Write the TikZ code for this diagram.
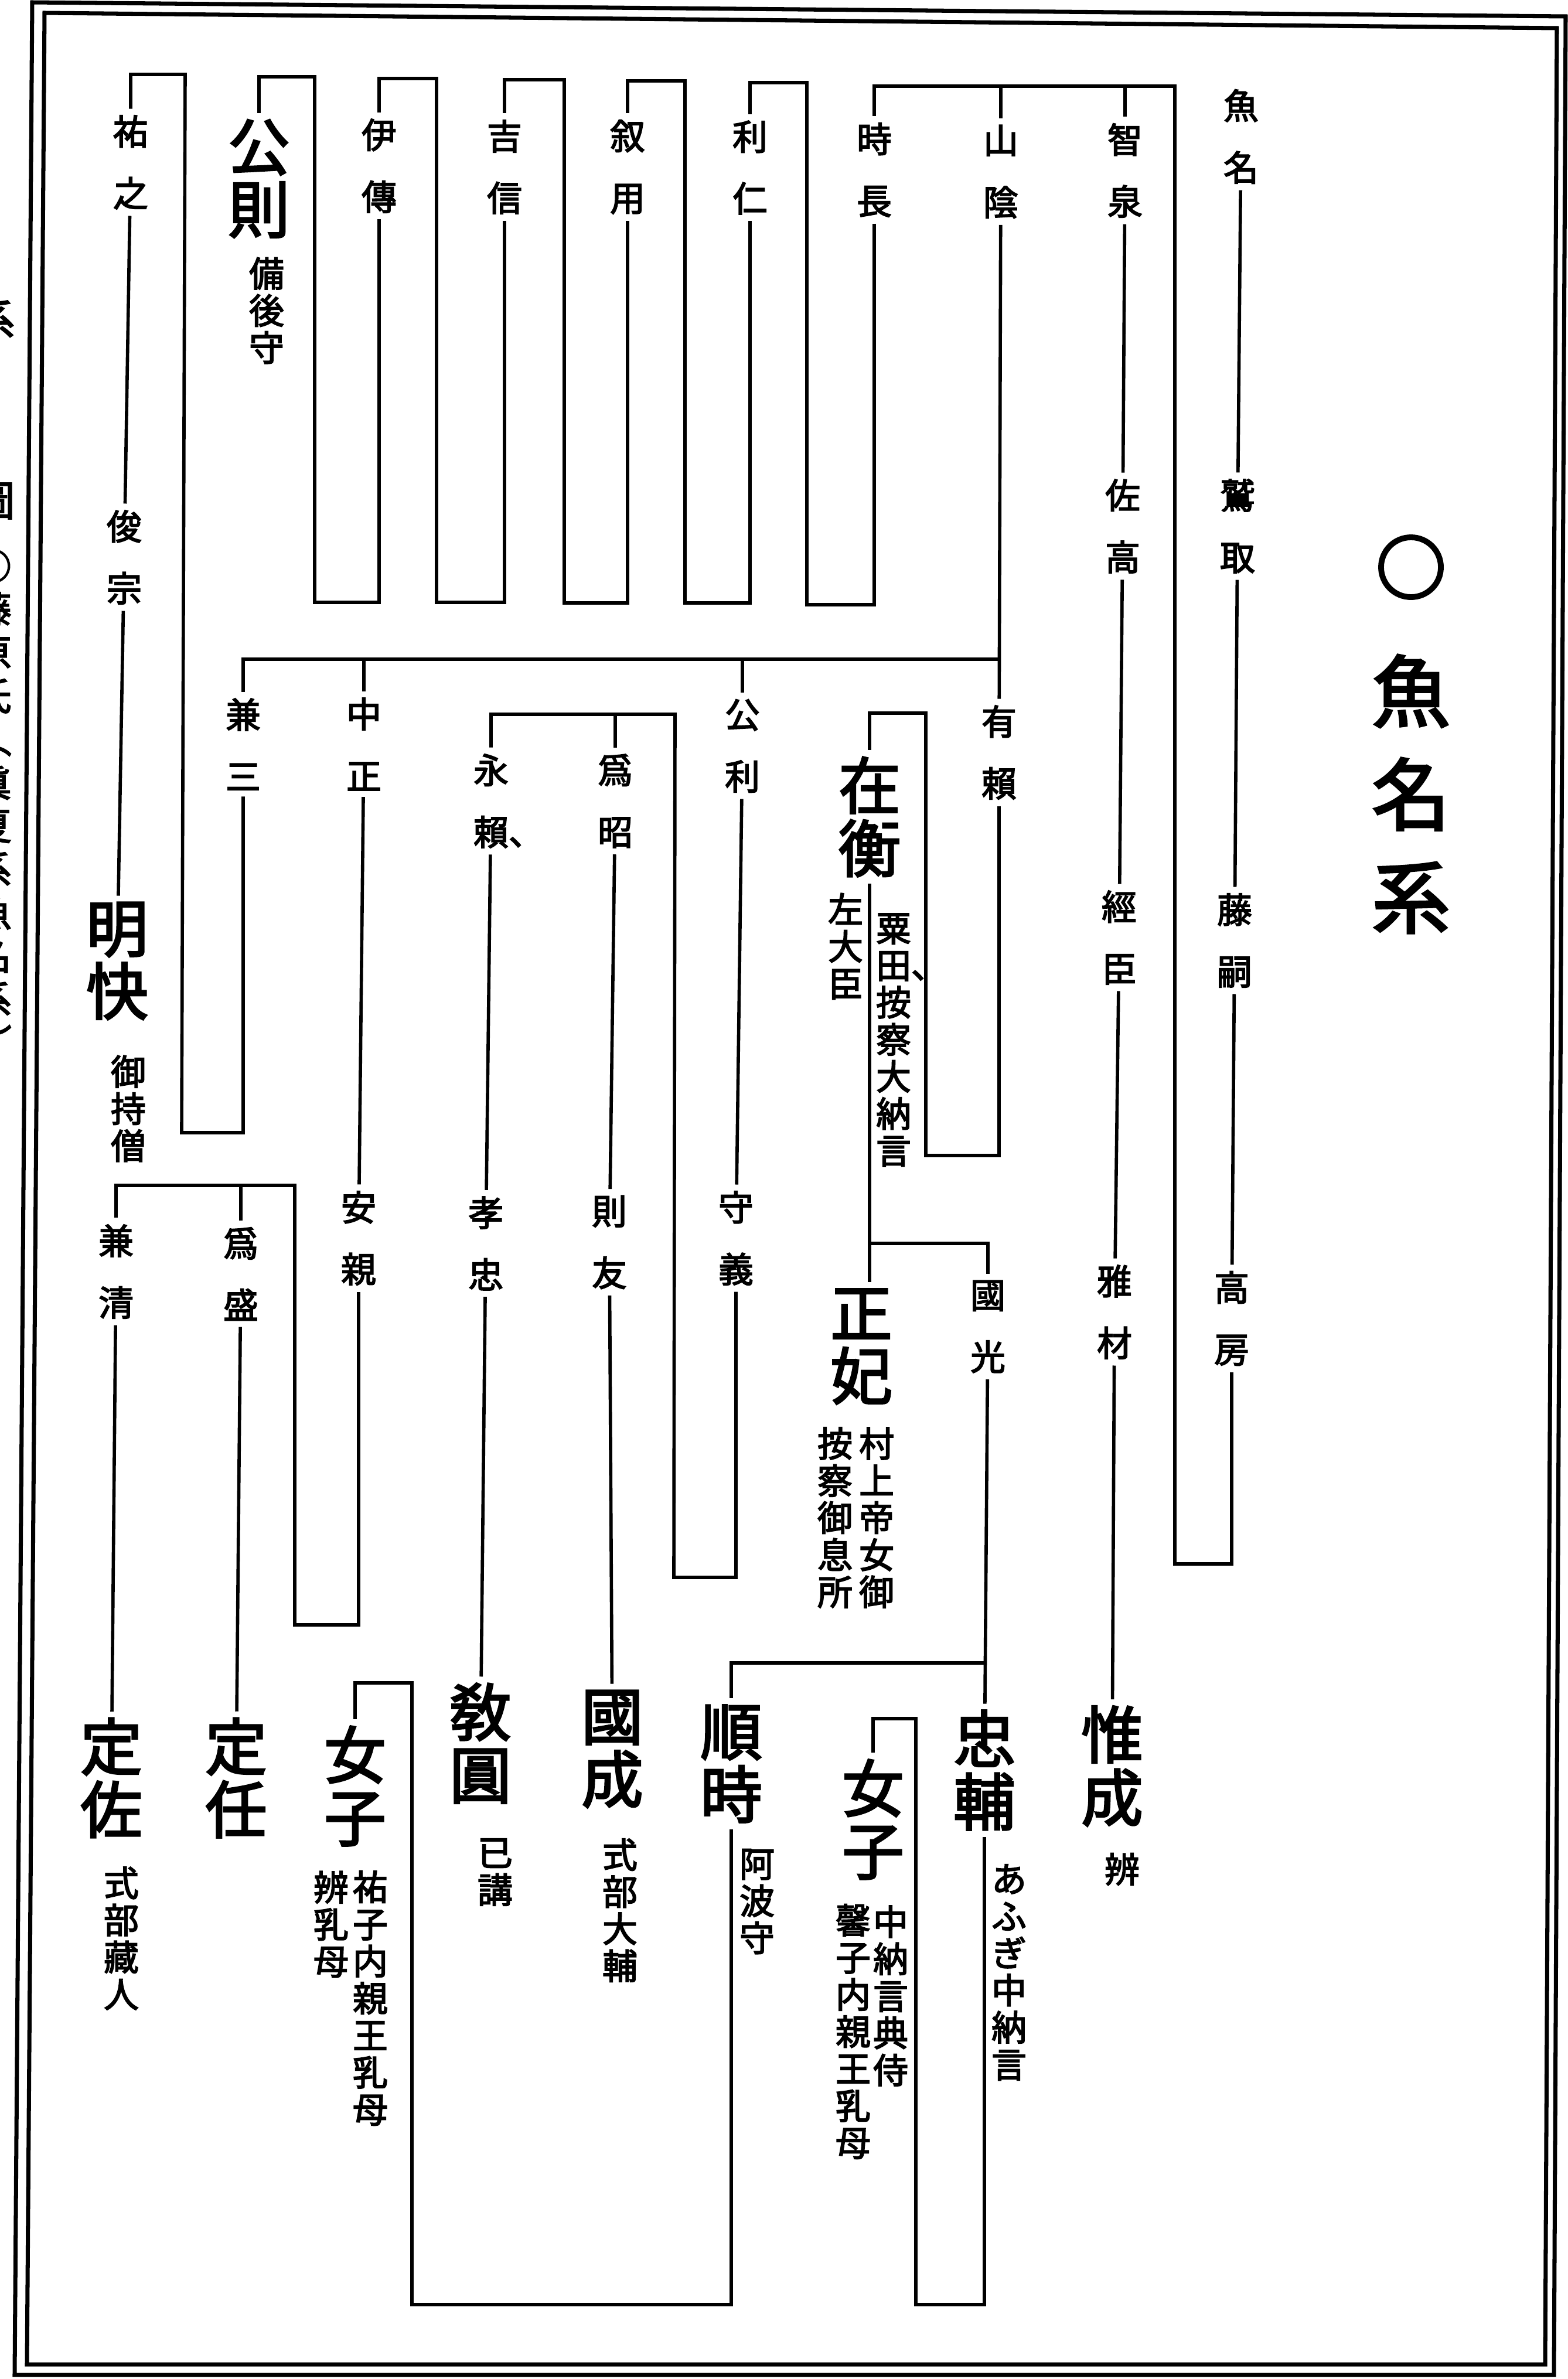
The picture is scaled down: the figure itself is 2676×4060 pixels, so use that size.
\documentclass[tikz,border=0pt]{standalone}
\usepackage{fontspec}
\setmainfont{Noto Sans CJK JP}[RawFeature={embolden=3}]

\tikzset{
  kid/.style={font=\fontsize{17}{30}\selectfont, align=center, inner xsep=0pt, inner ysep=3pt},
  chief/.style={font=\fontsize{30}{30.5}\selectfont, align=center, inner xsep=0pt, inner ysep=3pt},
  memo/.style={font=\fontsize{17}{18}\selectfont, align=center, inner sep=0pt},
  heading/.style={font=\fontsize{38}{50}\selectfont, align=center, inner sep=0pt},
  kin/.style={line width=1.6pt},
  rim/.style={line width=2pt}
}

\begin{document}
\begin{tikzpicture}[x=0.01cm,y=-0.01cm]
\useasboundingbox (0,0) rectangle (2676,4060);
% frame
\draw[rim] (55,4) -- (2672,28) -- (2652,4053) -- (25,4053) -- cycle;
\draw[rim] (76,22) -- (2657,48) -- (2637,4035) -- (46,4035) -- cycle;
% margin of the next page
\node[heading, font=\fontsize{20}{24}\selectfont] (mkei) at (-10,545) {系};
\node[heading, font=\fontsize{20}{24}\selectfont] (mzu) at (-10,855) {圖};
\node[heading, font=\fontsize{18}{21}\selectfont] (mtitle) at (-12,1370) {○\\藤\\原\\氏\\︵\\眞\\夏\\系\\魚\\名\\系\\︶};

% title
\node[circle, draw, line width=2.8pt, minimum size=1.02cm, inner sep=0pt] (maru) at (2408,968) {};
\node[heading] (uonakei) at (2408,1355) {魚\\名\\系};

% top row
\node[kid] (uona) at (2118,233) {魚\\名};
\node[kid] (washitori) at (2112,898) {鷲\\取};
\node[kid] (fujitsugu) at (2107,1605) {藤\\嗣};
\node[kid] (takafusa) at (2102,2250) {高\\房};
\node[kid] (chisen) at (1920,291) {智\\泉};
\node[kid] (suketaka) at (1916,898) {佐\\高};
\node[kid] (tsuneomi) at (1910,1600) {經\\臣};
\node[kid] (masaki) at (1902,2239) {雅\\材};
\node[chief] (koresada) at (1898,3014) {惟\\成};
\node[memo] (koresadaN) at (1915,3190) {辨};
\node[kid] (yamakage) at (1708,293) {山\\陰};
\node[kid] (toshinaga) at (1492,290) {時\\長};
\node[kid] (toshihito) at (1280,286) {利\\仁};
\node[kid] (nobumochi) at (1071,285) {叙\\用};
\node[kid] (yoshinobu) at (861,285) {吉\\信};
\node[kid] (korenori) at (647,283) {伊\\傳};
\node[chief] (kiminori) at (442,305) {公\\則};
\node[memo] (kiminoriN) at (455,530) {備\\後\\守};
\node[kid] (sukeyuki) at (223,277) {祐\\之};
\node[kid] (toshimune) at (212,951) {俊\\宗};
\node[chief] (myokai) at (200,1640) {明\\快};
\node[memo] (myokaiN) at (219,1892) {御\\持\\僧};

% middle
\node[kid] (ariyori) at (1705,1284) {有\\賴};
\node[chief] (arihira) at (1484,1394) {在\\衡};
\node[memo] (arihiraN1) at (1525,1775) {粟\\田\rlap{、}\\按\\察\\大\\納\\言};
\node[memo] (arihiraN2) at (1443,1615) {左\\大\\臣};
\node[chief] (seihi) at (1470,2298) {正\\妃};
\node[memo] (seihiN1) at (1496,2590) {村\\上\\帝\\女\\御};
\node[memo] (seihiN2) at (1425,2590) {按\\察\\御\\息\\所};
\node[kid] (kunimitsu) at (1686,2264) {國\\光};
\node[chief] (tadasuke) at (1680,3021) {忠\\輔};
\node[memo] (tadasukeN) at (1722,3366) {あ\\ふ\\ぎ\\中\\納\\言};
\node[chief] (yoritoki) at (1248,3010) {順\\時};
\node[memo] (yoritokiN) at (1292,3245) {阿\\波\\守};
\node[chief] (nyoshiA) at (1490,3105) {女\\子};
\node[memo] (nyoshiAN1) at (1520,3406) {中\\納\\言\\典\\侍};
\node[memo] (nyoshiAN2) at (1456,3467) {馨\\子\\内\\親\\王\\乳\\母};
\node[kid] (kimitoshi) at (1267,1273) {公\\利};
\node[kid] (moriyoshi) at (1256,2113) {守\\義};
\node[kid] (tameaki) at (1050,1367) {爲\\昭};
\node[kid] (eirai) at (838,1367) {永\\賴\rlap{、}};
\node[kid] (noritomo) at (1040,2120) {則\\友};
\node[chief] (kokusei) at (1045,2985) {國\\成};
\node[memo] (kokuseiN) at (1058,3260) {式\\部\\大\\輔};
\node[kid] (takatada) at (829,2122) {孝\\忠};
\node[chief] (kyoen) at (820,2975) {敎\\圓};
\node[memo] (kyoenN) at (845,3195) {已\\講};
\node[kid] (nakamasa) at (621,1270) {中\\正};
\node[kid] (yasuchika) at (612,2113) {安\\親};
\node[kid] (kanemitsu) at (415,1270) {兼\\三};
\node[kid] (tamemori) at (411,2174) {爲\\盛};
\node[kid] (kanekiyo) at (198,2170) {兼\\清};
\node[chief] (sadatou) at (403,3034) {定\\任};
\node[chief] (sadasuke) at (190,3034) {定\\佐};
\node[memo] (sadasukeN) at (207,3308) {式\\部\\藏\\人};
\node[chief] (nyoshiB) at (606,3048) {女\\子};
\node[memo] (nyoshiBN1) at (632,3410) {祐\\子\\内\\親\\王\\乳\\母};
\node[memo] (nyoshiBN2) at (565,3284) {辨\\乳\\母};

% straight descents
\draw[kin] (uona) -- (washitori) -- (fujitsugu) -- (takafusa);
\draw[kin] (chisen) -- (suketaka) -- (tsuneomi) -- (masaki) -- (koresada);
\draw[kin] (sukeyuki) -- (toshimune) -- (myokai);
\draw[kin] (yamakage) -- (ariyori);
\draw[kin] (kimitoshi) -- (moriyoshi);
\draw[kin] (tameaki) -- (noritomo) -- (kokusei);
\draw[kin] (eirai) -- (takatada) -- (kyoen);
\draw[kin] (nakamasa) -- (yasuchika);
\draw[kin] (tamemori) -- (sadatou);
\draw[kin] (kanekiyo) -- (sadasuke);
\draw[kin] (kunimitsu) -- (tadasuke);
\draw[kin] (arihira.south) -- (arihira.south |- seihi.north);

% wrapped lines
\coordinate (hfB) at (2005,2669);
\coordinate (hfT) at (2005,147);
\draw[kin] (takafusa.south) |- (hfB) -- (hfT) -| (toshinaga.north);
\draw[kin] (chisen.north |- hfT) -- (chisen.north);
\draw[kin] (yamakage.north |- hfT) -- (yamakage.north);

\coordinate (tnB) at (1377,1032);
\coordinate (tnT) at (1377,141);
\draw[kin] (toshinaga.south) |- (tnB) -- (tnT) -| (toshihito.north);
\coordinate (thB) at (1169,1029);
\coordinate (thT) at (1169,138);
\draw[kin] (toshihito.south) |- (thB) -- (thT) -| (nobumochi.north);
\coordinate (nmB) at (963,1029);
\coordinate (nmT) at (963,136);
\draw[kin] (nobumochi.south) |- (nmB) -- (nmT) -| (yoshinobu.north);
\coordinate (ynB) at (745,1028);
\coordinate (ynT) at (745,134);
\draw[kin] (yoshinobu.south) |- (ynB) -- (ynT) -| (korenori.north);
\coordinate (knB) at (537,1028);
\coordinate (knT) at (537,131);
\draw[kin] (korenori.south) |- (knB) -- (knT) -| (kiminori.north);
\coordinate (kmB) at (310,1933);
\coordinate (kmT) at (316,127);
\draw[kin] (kanemitsu.south) |- (kmB) -- (kmT) -| (sukeyuki.north);

% sons of yamakage
\coordinate (ykB) at (1708,1125);
\draw[kin] (ykB) -| (kanemitsu.north);
\draw[kin] (kimitoshi.north |- ykB) -- (kimitoshi.north);
\draw[kin] (nakamasa.north |- ykB) -- (nakamasa.north);

\coordinate (arB) at (1580,1972);
\coordinate (arT) at (1580,1217);
\draw[kin] (ariyori.south) |- (arB) -- (arT) -| (arihira.north);
\coordinate (ahK) at (1484,2122);
\draw[kin] (ahK) -| (kunimitsu.north);
\coordinate (kuK) at (1683,2838);
\draw[kin] (kuK) -| (yoritoki.north);

\coordinate (tsB) at (1563,3933);
\coordinate (tsT) at (1563,2933);
\draw[kin] (tadasuke.south) |- (tsB) -- (tsT) -| (nyoshiA.north);
\coordinate (ytB) at (703,3933);
\coordinate (ytT) at (703,2872);
\draw[kin] (yoritoki.south) |- (ytB) -- (ytT) -| (nyoshiB.north);

\coordinate (myB) at (1150,2692);
\coordinate (myT) at (1152,1219);
\draw[kin] (moriyoshi.south) |- (myB) -- (myT) -| (eirai.north);
\draw[kin] (tameaki.north |- myT) -- (tameaki.north);

\coordinate (ycB) at (503,2773);
\coordinate (ycT) at (503,2023);
\draw[kin] (yasuchika.south) |- (ycB) -- (ycT) -| (kanekiyo.north);
\draw[kin] (tamemori.north |- ycT) -- (tamemori.north);
\end{tikzpicture}
\end{document}
